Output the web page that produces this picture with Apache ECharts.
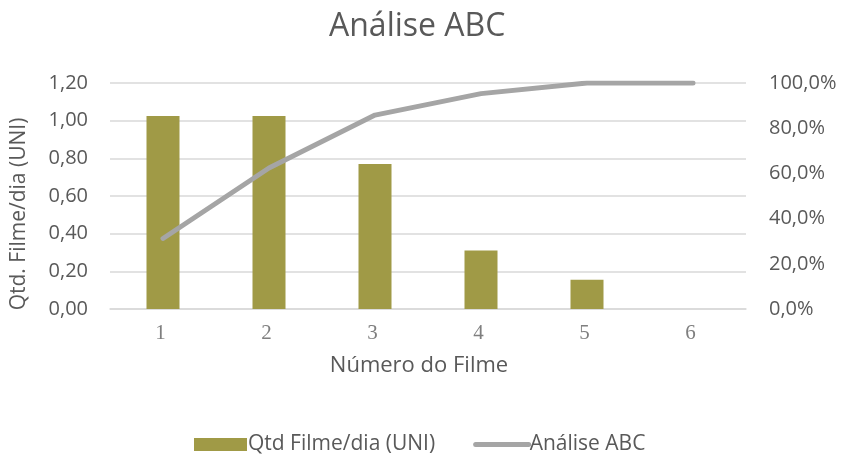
<!DOCTYPE html>
<html>
<head>
<meta charset="utf-8">
<script src="https://cdn.jsdelivr.net/npm/echarts@6/dist/echarts.min.js"></script>
<style>html,body{margin:0;padding:0;background:#fff}#c{width:843px;height:462px}</style>
</head>
<body>
<div id="c"></div>
<script>
const categories = ['1', '2', '3', '4', '5', '6'];
const qtdFilmeDia = [1.025, 1.025, 0.77, 0.31, 0.155, 0];
const analiseABC = [31.2, 62.4, 85.8, 95.3, 100, 100];
const leftTicks = { min: 0, max: 1.2, interval: 0.2 };
const rightTicks = { min: 0, max: 100, interval: 20 };

const chart = echarts.init(document.getElementById('c'));
const sans = 'Open Sans';
chart.setOption({
  animation: false,
  title: {
    text: 'Análise ABC', left: 324, top: 6,
    textStyle: { fontFamily: sans, fontSize: 32, fontWeight: 'normal', color: '#595959' }
  },
  legend: {
    bottom: 2, left: 189, itemGap: 38, itemWidth: 53, itemHeight: 13,
    textStyle: { fontFamily: sans, fontSize: 21, color: '#595959', padding: [0, 0, 0, -4] },
    data: [
      { name: 'Qtd Filme/dia (UNI)', icon: 'rect' },
      { name: 'Análise ABC', lineStyle: { width: 5, cap: 'round', color: '#a5a5a5' }, itemStyle: { opacity: 0 } }
    ]
  },
  grid: { left: 110, right: 97, top: 83, bottom: 153, containLabel: false, outerBoundsMode: 'none' },
  xAxis: {
    type: 'category', data: categories,
    name: 'Número do Filme', nameLocation: 'middle', nameGap: 46,
    nameTextStyle: { fontFamily: sans, fontSize: 22, color: '#595959', padding: [0, 18, 0, 0] },
    axisLine: { lineStyle: { color: '#d9d9d9', width: 1.5 } },
    axisTick: { show: false },
    axisLabel: { fontFamily: 'Liberation Serif', fontSize: 21, color: '#7f7f7f', margin: 14, padding: [0, 5, 0, 0] }
  },
  yAxis: [
    {
      type: 'value', min: leftTicks.min, max: leftTicks.max, interval: leftTicks.interval,
      name: 'Qtd. Filme/dia (UNI)', nameLocation: 'middle', nameGap: 80, nameRotate: 90,
      nameTextStyle: { fontFamily: sans, fontSize: 21, color: '#595959', padding: [0, 36, 0, 0] },
      axisLine: { show: false }, axisTick: { show: false },
      splitLine: { lineStyle: { color: '#d9d9d9', width: 1.5 } },
      axisLabel: {
        fontFamily: sans, fontSize: 20, color: '#595959', margin: 22,
        formatter: v => v.toFixed(2).replace('.', ',')
      }
    },
    {
      type: 'value', min: rightTicks.min, max: rightTicks.max, interval: rightTicks.interval,
      position: 'right',
      axisLine: { show: false }, axisTick: { show: false }, splitLine: { show: false },
      axisLabel: {
        fontFamily: sans, fontSize: 20, color: '#595959', margin: 23,
        formatter: v => v.toFixed(1).replace('.', ',') + '%'
      }
    }
  ],
  series: [
    {
      name: 'Qtd Filme/dia (UNI)', type: 'bar', data: qtdFilmeDia, yAxisIndex: 0,
      barWidth: 33, itemStyle: { color: '#a09a46' }
    },
    {
      name: 'Análise ABC', type: 'line', data: analiseABC, yAxisIndex: 1,
      symbol: 'none', lineStyle: { color: '#a5a5a5', width: 5, cap: 'round', join: 'round' },
      itemStyle: { color: '#a5a5a5' }
    }
  ]
});
</script>
</body>
</html>
